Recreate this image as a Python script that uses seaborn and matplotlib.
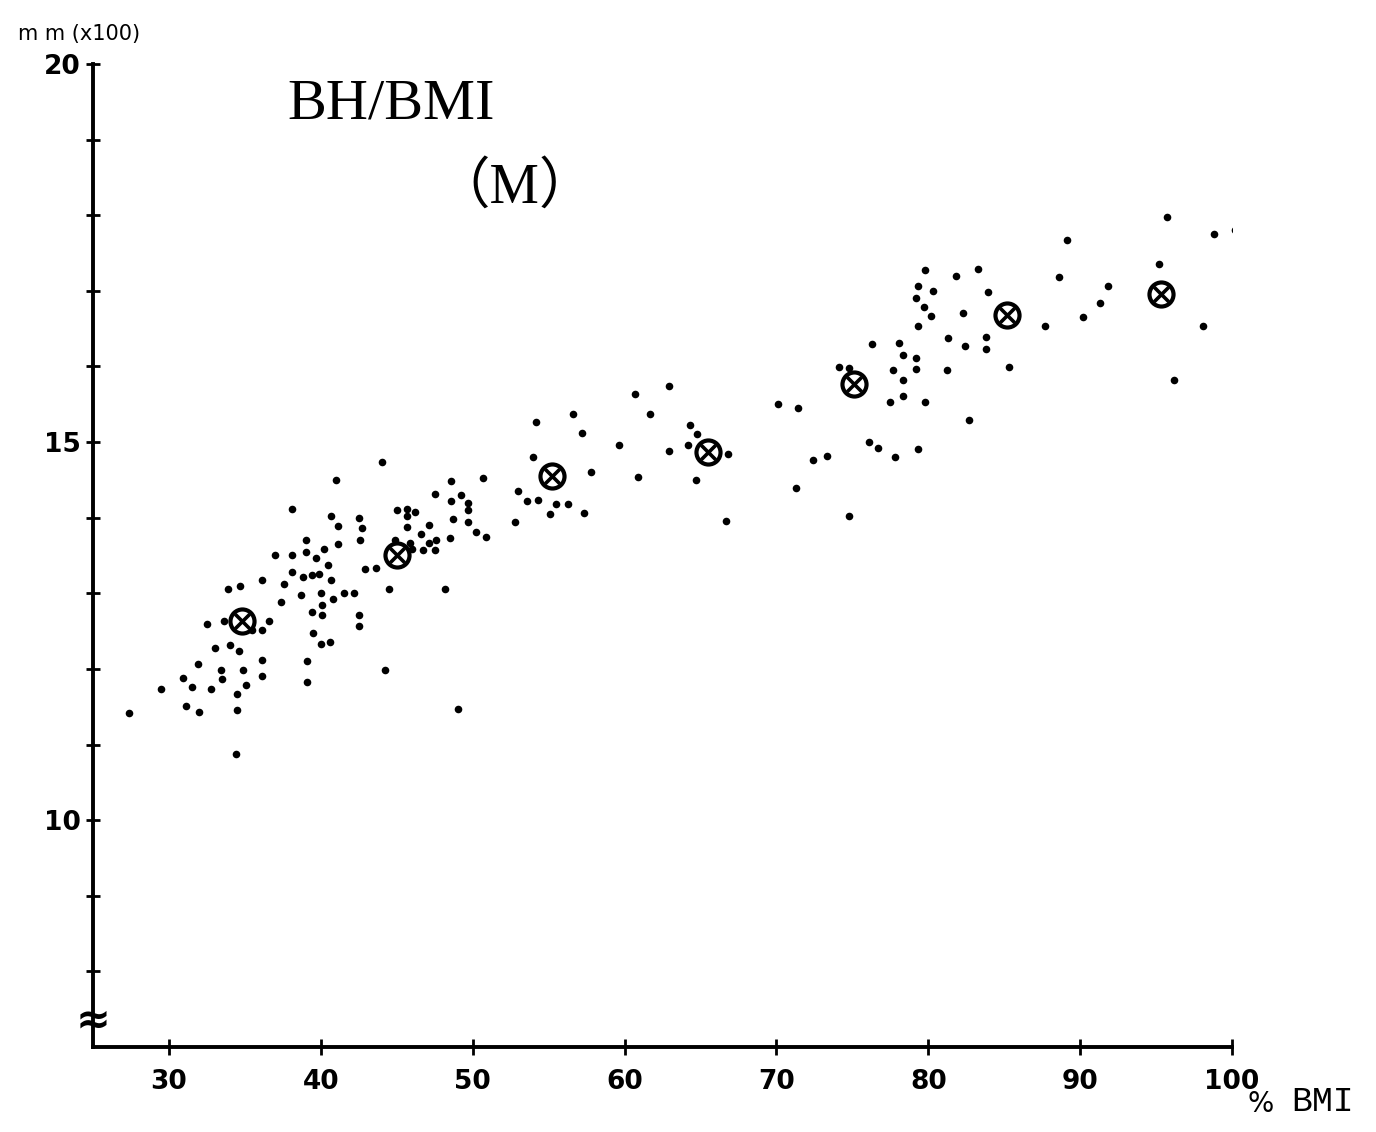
import numpy as np
import pandas as pd
import seaborn as sns
import matplotlib.pyplot as plt

# individual points: % BMI vs body height (mm x100)
bmi_pct = [
    41.0, 38.1, 40.7, 41.1, 42.5, 39.0, 41.1, 40.2, 37.0, 38.1,
    39.0, 39.7, 40.5, 38.1, 38.8, 39.4, 39.9, 40.7, 37.6, 36.1,
    33.9, 34.7, 38.7, 40.0, 41.5, 42.2, 40.8, 40.1, 37.4, 39.4,
    40.1, 42.5, 42.5, 32.5, 33.6, 35.5, 36.1, 36.6, 39.5, 40.0,
    40.6, 33.0, 34.0, 34.6, 31.9, 36.1, 33.4, 33.5, 34.9, 39.1,
    30.9, 31.5, 29.5, 32.8, 35.1, 36.1, 39.1, 34.5, 31.1, 32.0,
    34.5, 27.4, 34.4, 44.0, 42.7, 42.6, 48.6, 50.7, 47.5, 49.2,
    49.7, 49.7, 48.6, 45.0, 45.7, 46.2, 45.7, 45.7, 47.1, 46.6,
    48.7, 49.7, 50.2, 50.9, 48.5, 47.6, 47.1, 46.7, 47.5, 44.9,
    45.9, 46.0, 42.9, 43.6, 44.5, 48.2, 44.2, 49.0, 54.0, 53.0,
    53.6, 54.3, 52.8, 60.7, 62.9, 54.2, 56.6, 57.2, 61.7, 59.6,
    64.3, 64.8, 64.2, 62.9, 66.8, 57.8, 60.9, 64.7, 55.5, 56.3,
    55.1, 57.3, 66.7, 79.8, 79.3, 79.2, 80.3, 79.7, 80.2, 81.8,
    83.3, 83.9, 82.3, 79.3, 76.3, 78.1, 78.3, 81.3, 82.4, 83.8,
    83.8, 74.1, 74.8, 77.7, 79.2, 79.2, 78.3, 81.2, 85.3, 77.5,
    78.3, 79.8, 70.1, 71.4, 82.7, 76.1, 76.7, 77.8, 79.3, 72.4,
    73.3, 71.3, 74.8, 89.1, 95.7, 98.8, 100.2, 88.6, 91.8, 91.3,
    90.2, 95.2, 87.7, 98.1, 96.2,
]
bh = [
    14.50, 14.11, 14.02, 13.89, 13.99, 13.70, 13.65, 13.58, 13.50, 13.51,
    13.54, 13.46, 13.37, 13.28, 13.21, 13.24, 13.26, 13.17, 13.12, 13.17,
    13.06, 13.09, 12.98, 13.00, 13.00, 13.01, 12.93, 12.85, 12.89, 12.75,
    12.71, 12.71, 12.57, 12.59, 12.64, 12.52, 12.52, 12.64, 12.47, 12.33,
    12.35, 12.27, 12.31, 12.24, 12.07, 12.12, 11.99, 11.87, 11.99, 12.10,
    11.88, 11.76, 11.74, 11.74, 11.79, 11.91, 11.83, 11.67, 11.51, 11.43,
    11.45, 11.42, 10.88, 14.73, 13.86, 13.70, 14.48, 14.52, 14.31, 14.30,
    14.20, 14.10, 14.22, 14.10, 14.12, 14.07, 14.02, 13.87, 13.90, 13.78,
    13.98, 13.94, 13.81, 13.74, 13.73, 13.71, 13.66, 13.57, 13.57, 13.71,
    13.66, 13.59, 13.32, 13.34, 13.06, 13.06, 11.98, 11.47, 14.80, 14.35,
    14.22, 14.24, 13.94, 15.64, 15.74, 15.27, 15.37, 15.12, 15.37, 14.96,
    15.23, 15.11, 14.96, 14.88, 14.84, 14.60, 14.54, 14.50, 14.18, 14.18,
    14.05, 14.06, 13.95, 17.28, 17.07, 16.91, 17.00, 16.79, 16.67, 17.19,
    17.29, 16.98, 16.71, 16.54, 16.30, 16.31, 16.15, 16.37, 16.27, 16.39,
    16.23, 15.99, 15.98, 15.95, 16.11, 15.97, 15.82, 15.95, 15.99, 15.53,
    15.61, 15.53, 15.50, 15.45, 15.29, 15.00, 14.92, 14.80, 14.91, 14.76,
    14.81, 14.39, 14.02, 17.67, 17.97, 17.75, 17.81, 17.18, 17.07, 16.84,
    16.66, 17.36, 16.53, 16.54, 15.82,
]

# group means (circled crosses)
mean_bmi = [34.8, 45.0, 55.2, 65.5, 75.1, 85.2, 95.3]
mean_bh = [12.63, 13.51, 14.55, 14.87, 15.77, 16.68, 16.96]

x_ticks = [30, 40, 50, 60, 70, 80, 90, 100]
x_labels = ["30", "40", "50", "60", "70", "80", "90", "100"]
y_ticks = list(range(8, 21))
y_labels = ["10" if v == 10 else "15" if v == 15 else "20" if v == 20 else "" for v in y_ticks]

df = pd.DataFrame({"bmi": bmi_pct, "bh": bh})
means = pd.DataFrame({"bmi": mean_bmi, "bh": mean_bh})

sns.set_style("ticks")
plt.rcParams["font.family"] = ["DejaVu Sans"]
plt.rcParams["text.color"] = "black"
plt.rcParams["xtick.color"] = "black"
plt.rcParams["ytick.color"] = "black"
plt.rcParams["axes.edgecolor"] = "black"

fig = plt.figure(figsize=(13.76, 11.32), dpi=100)
ax = fig.add_axes([0.0676, 0.0751, 0.8278, 0.8684])

sns.scatterplot(data=df, x="bmi", y="bh", ax=ax, color="black", s=30,
                linewidth=0, legend=False)
sns.scatterplot(data=means, x="bmi", y="bh", ax=ax, marker="o", s=300,
                facecolor="white", edgecolor="black", linewidth=3.0,
                legend=False, zorder=4)
sns.scatterplot(data=means, x="bmi", y="bh", ax=ax, marker="x", s=110,
                color="black", linewidth=2.6, legend=False, zorder=5)

ax.set_xlim(25, 100)
ax.set_ylim(7, 20)
ax.set_xticks(x_ticks)
ax.set_xticklabels(x_labels, fontsize=19, fontweight="bold")
ax.set_yticks(y_ticks)
ax.set_yticklabels(y_labels, fontsize=19, fontweight="bold")
ax.set_xlabel("")
ax.set_ylabel("")

for side in ["top", "right"]:
    ax.spines[side].set_visible(False)
for side in ["left", "bottom"]:
    ax.spines[side].set_linewidth(2.8)
ax.tick_params(axis="x", direction="inout", length=12, width=2, pad=10)
ax.tick_params(axis="y", direction="inout", length=10, width=2, pad=4)

# axis break mark near the bottom of the y axis
ax.text(0, 7.35, "\u2248", transform=ax.get_yaxis_transform(),
        ha="center", va="center", fontsize=30, fontweight="bold",
        clip_on=False)

ax.text(0.171, 0.959, "BH/BMI", transform=ax.transAxes, fontsize=42,
        family=["Liberation Serif", "DejaVu Serif"], va="center", ha="left")
ax.text(0.370, 0.874, "\uff08M\uff09", transform=ax.transAxes, fontsize=40,
        family=["Liberation Serif", "Noto Sans CJK JP"], va="center", ha="center")

fig.text(18 / 1376, 1 - 34 / 1132, "m m (x100)", fontsize=15, va="center", ha="left")
ax.text(1.025, -0.058, "%", transform=ax.transAxes, fontsize=20,
        va="center", ha="center")
ax.text(1.052, -0.055, "BMI", transform=ax.transAxes, fontsize=25,
        family=["Liberation Mono"], va="center", ha="left")

fig.savefig("out.png", dpi=100)
